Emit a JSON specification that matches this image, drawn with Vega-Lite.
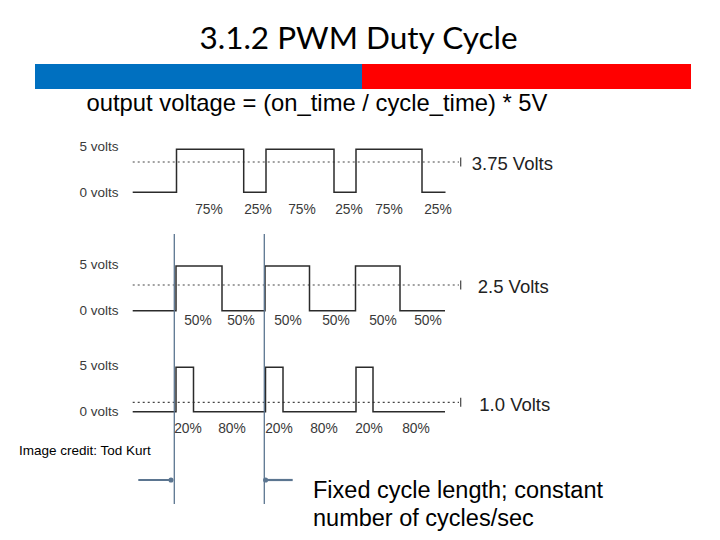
{
  "$schema": "https://vega.github.io/schema/vega-lite/v6.json",
  "width": 720,
  "height": 540,
  "autosize": {"type": "fit", "contains": "padding"},
  "padding": 0,
  "background": "white",
  "config": {"view": {"stroke": null}},
  "encoding": {
    "x": {"field": "x", "type": "quantitative", "scale": {"domain": [0, 720], "nice": false, "zero": false}, "axis": null},
    "y": {"field": "y", "type": "quantitative", "scale": {"domain": [0, 540], "nice": false, "zero": false, "reverse": true}, "axis": null}
  },
  "layer": [
    {
      "data": {"values": [
        {"x": 35, "x2": 362, "y": 64, "y2": 89, "c": "#0070C0"},
        {"x": 362, "x2": 691, "y": 64, "y2": 89, "c": "#FF0000"}
      ]},
      "mark": {"type": "rect"},
      "encoding": {
        "x2": {"field": "x2"},
        "y2": {"field": "y2"},
        "color": {"field": "c", "type": "nominal", "scale": null}
      }
    },
    {
      "data": {"values": [
        {"y": 162, "x": 132.7, "x2": 459},
        {"y": 285, "x": 132.7, "x2": 459},
        {"y": 402.3, "x": 132.7, "x2": 459}
      ]},
      "mark": {"type": "rule", "color": "#444", "strokeWidth": 1.2, "strokeDash": [2, 3]},
      "encoding": {"x2": {"field": "x2"}}
    },
    {
      "data": {"values": [
        {"x": 460.7, "y": 157.5, "y2": 166.5},
        {"x": 460.7, "y": 280.5, "y2": 289.5},
        {"x": 460.7, "y": 397.8, "y2": 406.8}
      ]},
      "mark": {"type": "rule", "color": "#444", "strokeWidth": 1.2},
      "encoding": {"y2": {"field": "y2"}}
    },
    {
      "data": {"values": [
        {"w": "w1", "o": 1, "x": 132.7, "y": 192.3},
        {"w": "w1", "o": 2, "x": 176.5, "y": 192.3},
        {"w": "w1", "o": 3, "x": 176.5, "y": 149.3},
        {"w": "w1", "o": 4, "x": 243.7, "y": 149.3},
        {"w": "w1", "o": 5, "x": 243.7, "y": 192.3},
        {"w": "w1", "o": 6, "x": 266, "y": 192.3},
        {"w": "w1", "o": 7, "x": 266, "y": 149.3},
        {"w": "w1", "o": 8, "x": 334, "y": 149.3},
        {"w": "w1", "o": 9, "x": 334, "y": 192.3},
        {"w": "w1", "o": 10, "x": 356, "y": 192.3},
        {"w": "w1", "o": 11, "x": 356, "y": 149.3},
        {"w": "w1", "o": 12, "x": 422, "y": 149.3},
        {"w": "w1", "o": 13, "x": 422, "y": 192.3},
        {"w": "w1", "o": 14, "x": 445.5, "y": 192.3},
        {"w": "w2", "o": 1, "x": 132.7, "y": 310.7},
        {"w": "w2", "o": 2, "x": 176, "y": 310.7},
        {"w": "w2", "o": 3, "x": 176, "y": 266},
        {"w": "w2", "o": 4, "x": 222, "y": 266},
        {"w": "w2", "o": 5, "x": 222, "y": 310.7},
        {"w": "w2", "o": 6, "x": 265, "y": 310.7},
        {"w": "w2", "o": 7, "x": 265, "y": 266},
        {"w": "w2", "o": 8, "x": 309.5, "y": 266},
        {"w": "w2", "o": 9, "x": 309.5, "y": 310.7},
        {"w": "w2", "o": 10, "x": 355.5, "y": 310.7},
        {"w": "w2", "o": 11, "x": 355.5, "y": 266},
        {"w": "w2", "o": 12, "x": 400, "y": 266},
        {"w": "w2", "o": 13, "x": 400, "y": 310.7},
        {"w": "w2", "o": 14, "x": 445, "y": 310.7},
        {"w": "w3", "o": 1, "x": 132.7, "y": 411.7},
        {"w": "w3", "o": 2, "x": 176, "y": 411.7},
        {"w": "w3", "o": 3, "x": 176, "y": 367.3},
        {"w": "w3", "o": 4, "x": 193.5, "y": 367.3},
        {"w": "w3", "o": 5, "x": 193.5, "y": 411.7},
        {"w": "w3", "o": 6, "x": 265.5, "y": 411.7},
        {"w": "w3", "o": 7, "x": 265.5, "y": 367.3},
        {"w": "w3", "o": 8, "x": 283, "y": 367.3},
        {"w": "w3", "o": 9, "x": 283, "y": 411.7},
        {"w": "w3", "o": 10, "x": 356, "y": 411.7},
        {"w": "w3", "o": 11, "x": 356, "y": 367.3},
        {"w": "w3", "o": 12, "x": 373, "y": 367.3},
        {"w": "w3", "o": 13, "x": 373, "y": 411.7},
        {"w": "w3", "o": 14, "x": 445, "y": 411.7}
      ]},
      "mark": {"type": "line", "color": "#2b2b2b", "strokeWidth": 1.5, "interpolate": "linear"},
      "encoding": {
        "detail": {"field": "w", "type": "nominal"},
        "order": {"field": "o", "type": "quantitative"}
      }
    },
    {
      "data": {"values": [
        {"x": 174.3, "y": 234, "y2": 504},
        {"x": 264.3, "y": 234, "y2": 504}
      ]},
      "mark": {"type": "rule", "color": "#5b7590", "strokeWidth": 1.3},
      "encoding": {"y2": {"field": "y2"}}
    },
    {
      "data": {"values": [
        {"x": 138.3, "x2": 171, "y": 480},
        {"x": 265.5, "x2": 292.7, "y": 480}
      ]},
      "mark": {"type": "rule", "color": "#5b7590", "strokeWidth": 2.2},
      "encoding": {"x2": {"field": "x2"}}
    },
    {
      "data": {"values": [
        {"x": 171, "y": 480},
        {"x": 265.6, "y": 480}
      ]},
      "mark": {"type": "point", "filled": true, "color": "#5b7590", "size": 26, "opacity": 1}
    },
    {
      "data": {"values": [
        {"x": 358.5, "y": 48.5, "t": "3.1.2 PWM Duty Cycle"}
      ]},
      "mark": {"type": "text", "font": "Lato", "fontSize": 31.5, "color": "#000", "align": "center", "baseline": "alphabetic"},
      "encoding": {"text": {"field": "t"}}
    },
    {
      "data": {"values": [
        {"x": 86.5, "y": 111, "t": "output voltage = (on_time / cycle_time) * 5V"}
      ]},
      "mark": {"type": "text", "font": "Liberation Sans", "fontSize": 23.8, "color": "#000", "align": "left", "baseline": "alphabetic"},
      "encoding": {"text": {"field": "t"}}
    },
    {
      "data": {"values": [
        {"x": 79.5, "y": 146.7, "t": "5 volts"},
        {"x": 79.5, "y": 193.3, "t": "0 volts"},
        {"x": 79.5, "y": 265, "t": "5 volts"},
        {"x": 79.5, "y": 311, "t": "0 volts"},
        {"x": 79.5, "y": 366, "t": "5 volts"},
        {"x": 79.5, "y": 411.7, "t": "0 volts"}
      ]},
      "mark": {"type": "text", "font": "Liberation Sans", "fontSize": 13.5, "color": "#3a3a3a", "align": "left", "baseline": "middle"},
      "encoding": {"text": {"field": "t"}}
    },
    {
      "data": {"values": [
        {"x": 209, "y": 210, "t": "75%"},
        {"x": 258, "y": 210, "t": "25%"},
        {"x": 302, "y": 210, "t": "75%"},
        {"x": 349, "y": 210, "t": "25%"},
        {"x": 389, "y": 210, "t": "75%"},
        {"x": 438, "y": 210, "t": "25%"},
        {"x": 198, "y": 320.7, "t": "50%"},
        {"x": 241, "y": 320.7, "t": "50%"},
        {"x": 288, "y": 320.7, "t": "50%"},
        {"x": 336, "y": 320.7, "t": "50%"},
        {"x": 383, "y": 320.7, "t": "50%"},
        {"x": 428, "y": 320.7, "t": "50%"},
        {"x": 188, "y": 428.5, "t": "20%"},
        {"x": 232, "y": 428.5, "t": "80%"},
        {"x": 279, "y": 428.5, "t": "20%"},
        {"x": 324, "y": 428.5, "t": "80%"},
        {"x": 369, "y": 428.5, "t": "20%"},
        {"x": 416, "y": 428.5, "t": "80%"}
      ]},
      "mark": {"type": "text", "font": "Liberation Sans", "fontSize": 13.8, "color": "#3a3a3a", "align": "center", "baseline": "middle"},
      "encoding": {"text": {"field": "t"}}
    },
    {
      "data": {"values": [
        {"x": 471.7, "y": 164, "t": "3.75 Volts"},
        {"x": 477.7, "y": 287, "t": "2.5 Volts"},
        {"x": 479.3, "y": 404.5, "t": "1.0 Volts"}
      ]},
      "mark": {"type": "text", "font": "Liberation Sans", "fontSize": 18.5, "color": "#222", "align": "left", "baseline": "middle"},
      "encoding": {"text": {"field": "t"}}
    },
    {
      "data": {"values": [
        {"x": 19, "y": 450.5, "t": "Image credit: Tod Kurt"}
      ]},
      "mark": {"type": "text", "font": "Liberation Sans", "fontSize": 13.5, "color": "#000", "align": "left", "baseline": "middle"},
      "encoding": {"text": {"field": "t"}}
    },
    {
      "data": {"values": [
        {"x": 313, "y": 497.5, "t": "Fixed cycle length; constant"},
        {"x": 313, "y": 526, "t": "number of cycles/sec"}
      ]},
      "mark": {"type": "text", "font": "Liberation Sans", "fontSize": 23.5, "color": "#000", "align": "left", "baseline": "alphabetic"},
      "encoding": {"text": {"field": "t"}}
    }
  ]
}
